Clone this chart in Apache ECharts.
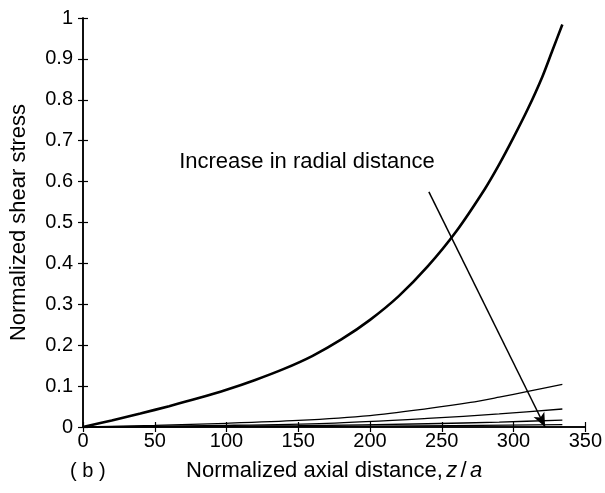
<!DOCTYPE html>
<html>
<head>
<meta charset="utf-8">
<script src="https://cdn.jsdelivr.net/npm/echarts@6/dist/echarts.min.js"></script>
<style>html,body{margin:0;padding:0;background:#fff;}#c{width:605px;height:493px;}</style>
</head>
<body>
<div id="c"></div>
<script>
// Axial distance samples (z/a) and normalized shear stress for each radial distance
const zMain = [0, 20, 40, 60, 80, 100, 120, 140, 160, 180, 200, 220, 240, 260, 280, 290, 300, 310, 320, 327, 334];
const yMain = [0, 0.016, 0.033, 0.051, 0.07, 0.091, 0.115, 0.142, 0.174, 0.214, 0.262, 0.32, 0.392, 0.478, 0.582, 0.642, 0.708, 0.778, 0.856, 0.92, 0.984];
const z2 = [0, 50, 100, 150, 200, 240, 270, 290, 310, 334];
const y2 = [0, 0.004, 0.009, 0.016, 0.028, 0.045, 0.06, 0.073, 0.087, 0.104];
const z3 = [0, 100, 170, 240, 290, 334];
const y3 = [0, 0.004, 0.009, 0.021, 0.032, 0.044];
const z4 = [0, 150, 240, 290, 334];
const y4 = [0, 0.003, 0.008, 0.012, 0.017];
const z5 = [0, 200, 334];
const y5 = [0, 0.002, 0.006];
const xTicks = [0, 50, 100, 150, 200, 250, 300, 350];
const yTicks = [0, 0.1, 0.2, 0.3, 0.4, 0.5, 0.6, 0.7, 0.8, 0.9, 1];
const annotText = 'Increase in radial distance';
const annotAt = [67, 0.648];
const arrowFrom = [241, 0.575];
const arrowTo = [322, 0];

const pair = (xs, ys) => xs.map((x, i) => [x, ys[i]]);
const FONT = 'Liberation Sans';

const axisCommon = {
  axisLine: { show: true, lineStyle: { color: '#000', width: 1.5 } },
  axisTick: { show: true, inside: true, length: 5, lineStyle: { color: '#000', width: 1.2 } },
  splitLine: { show: false }
};
const lineSeries = (data, w, s) => ({
  type: 'line', data: data, smooth: s, showSymbol: false,
  lineStyle: { color: '#000', width: w }
});

const chart = echarts.init(document.getElementById('c'), null, { renderer: 'canvas' });
chart.setOption({
  backgroundColor: '#fff',
  animation: false,
  grid: { left: 83, right: 18, top: 18, bottom: 66, containLabel: false },
  xAxis: [
    Object.assign({
      type: 'value', min: xTicks[0], max: xTicks[xTicks.length - 1], interval: 50, position: 'bottom',
      name: '{n|Normalized axial distance,} {i|z} {n|/} {i|a}', nameLocation: 'middle', nameGap: 33,
      nameTextStyle: {
        rich: {
          n: { fontFamily: FONT, fontSize: 22, color: '#000' },
          i: { fontFamily: FONT, fontSize: 22, color: '#000', fontStyle: 'italic' }
        }
      },
      axisLabel: { color: '#000', fontFamily: FONT, fontSize: 20, margin: 4 }
    }, axisCommon),
    Object.assign({
      type: 'value', min: xTicks[0], max: xTicks[xTicks.length - 1], interval: 50, position: 'top',
      axisLabel: { show: false }
    }, axisCommon)
  ],
  yAxis: [
    Object.assign({
      type: 'value', min: yTicks[0], max: yTicks[yTicks.length - 1], interval: 0.1, position: 'left',
      name: 'Normalized shear stress', nameLocation: 'middle', nameGap: 53,
      nameTextStyle: { fontFamily: FONT, fontSize: 22, color: '#000' },
      axisLabel: { color: '#000', fontFamily: FONT, fontSize: 20, margin: 10,
        formatter: v => String(Math.round(v * 10) / 10) }
    }, axisCommon),
    Object.assign({
      type: 'value', min: yTicks[0], max: yTicks[yTicks.length - 1], interval: 0.1, position: 'right',
      axisLabel: { show: false }
    }, axisCommon)
  ],
  graphic: [
    { type: 'text', left: 70, top: 461, style: { text: '( b )', font: '20px "Liberation Sans"', fill: '#000' } }
  ],
  series: [
    lineSeries(pair(zMain, yMain), 2.6, 0.3),
    lineSeries(pair(z2, y2), 1.3, 0.3),
    lineSeries(pair(z3, y3), 1.3, 0.3),
    lineSeries(pair(z4, y4), 1.3, 0.3),
    lineSeries(pair(z5, y5), 1.3, 0.3),
    {
      type: 'scatter', data: [annotAt], symbolSize: 0, silent: true,
      itemStyle: { opacity: 1 },
      label: { show: true, position: 'right', distance: 0, formatter: annotText,
        fontFamily: FONT, fontSize: 22, color: '#000' },
      markLine: {
        silent: true, symbol: ['none', 'arrow'], symbolSize: [9, 14],
        label: { show: false },
        lineStyle: { color: '#000', width: 1.5, type: 'solid' },
        data: [[{ coord: arrowFrom }, { coord: arrowTo }]]
      }
    }
  ]
});
</script>
</body>
</html>
